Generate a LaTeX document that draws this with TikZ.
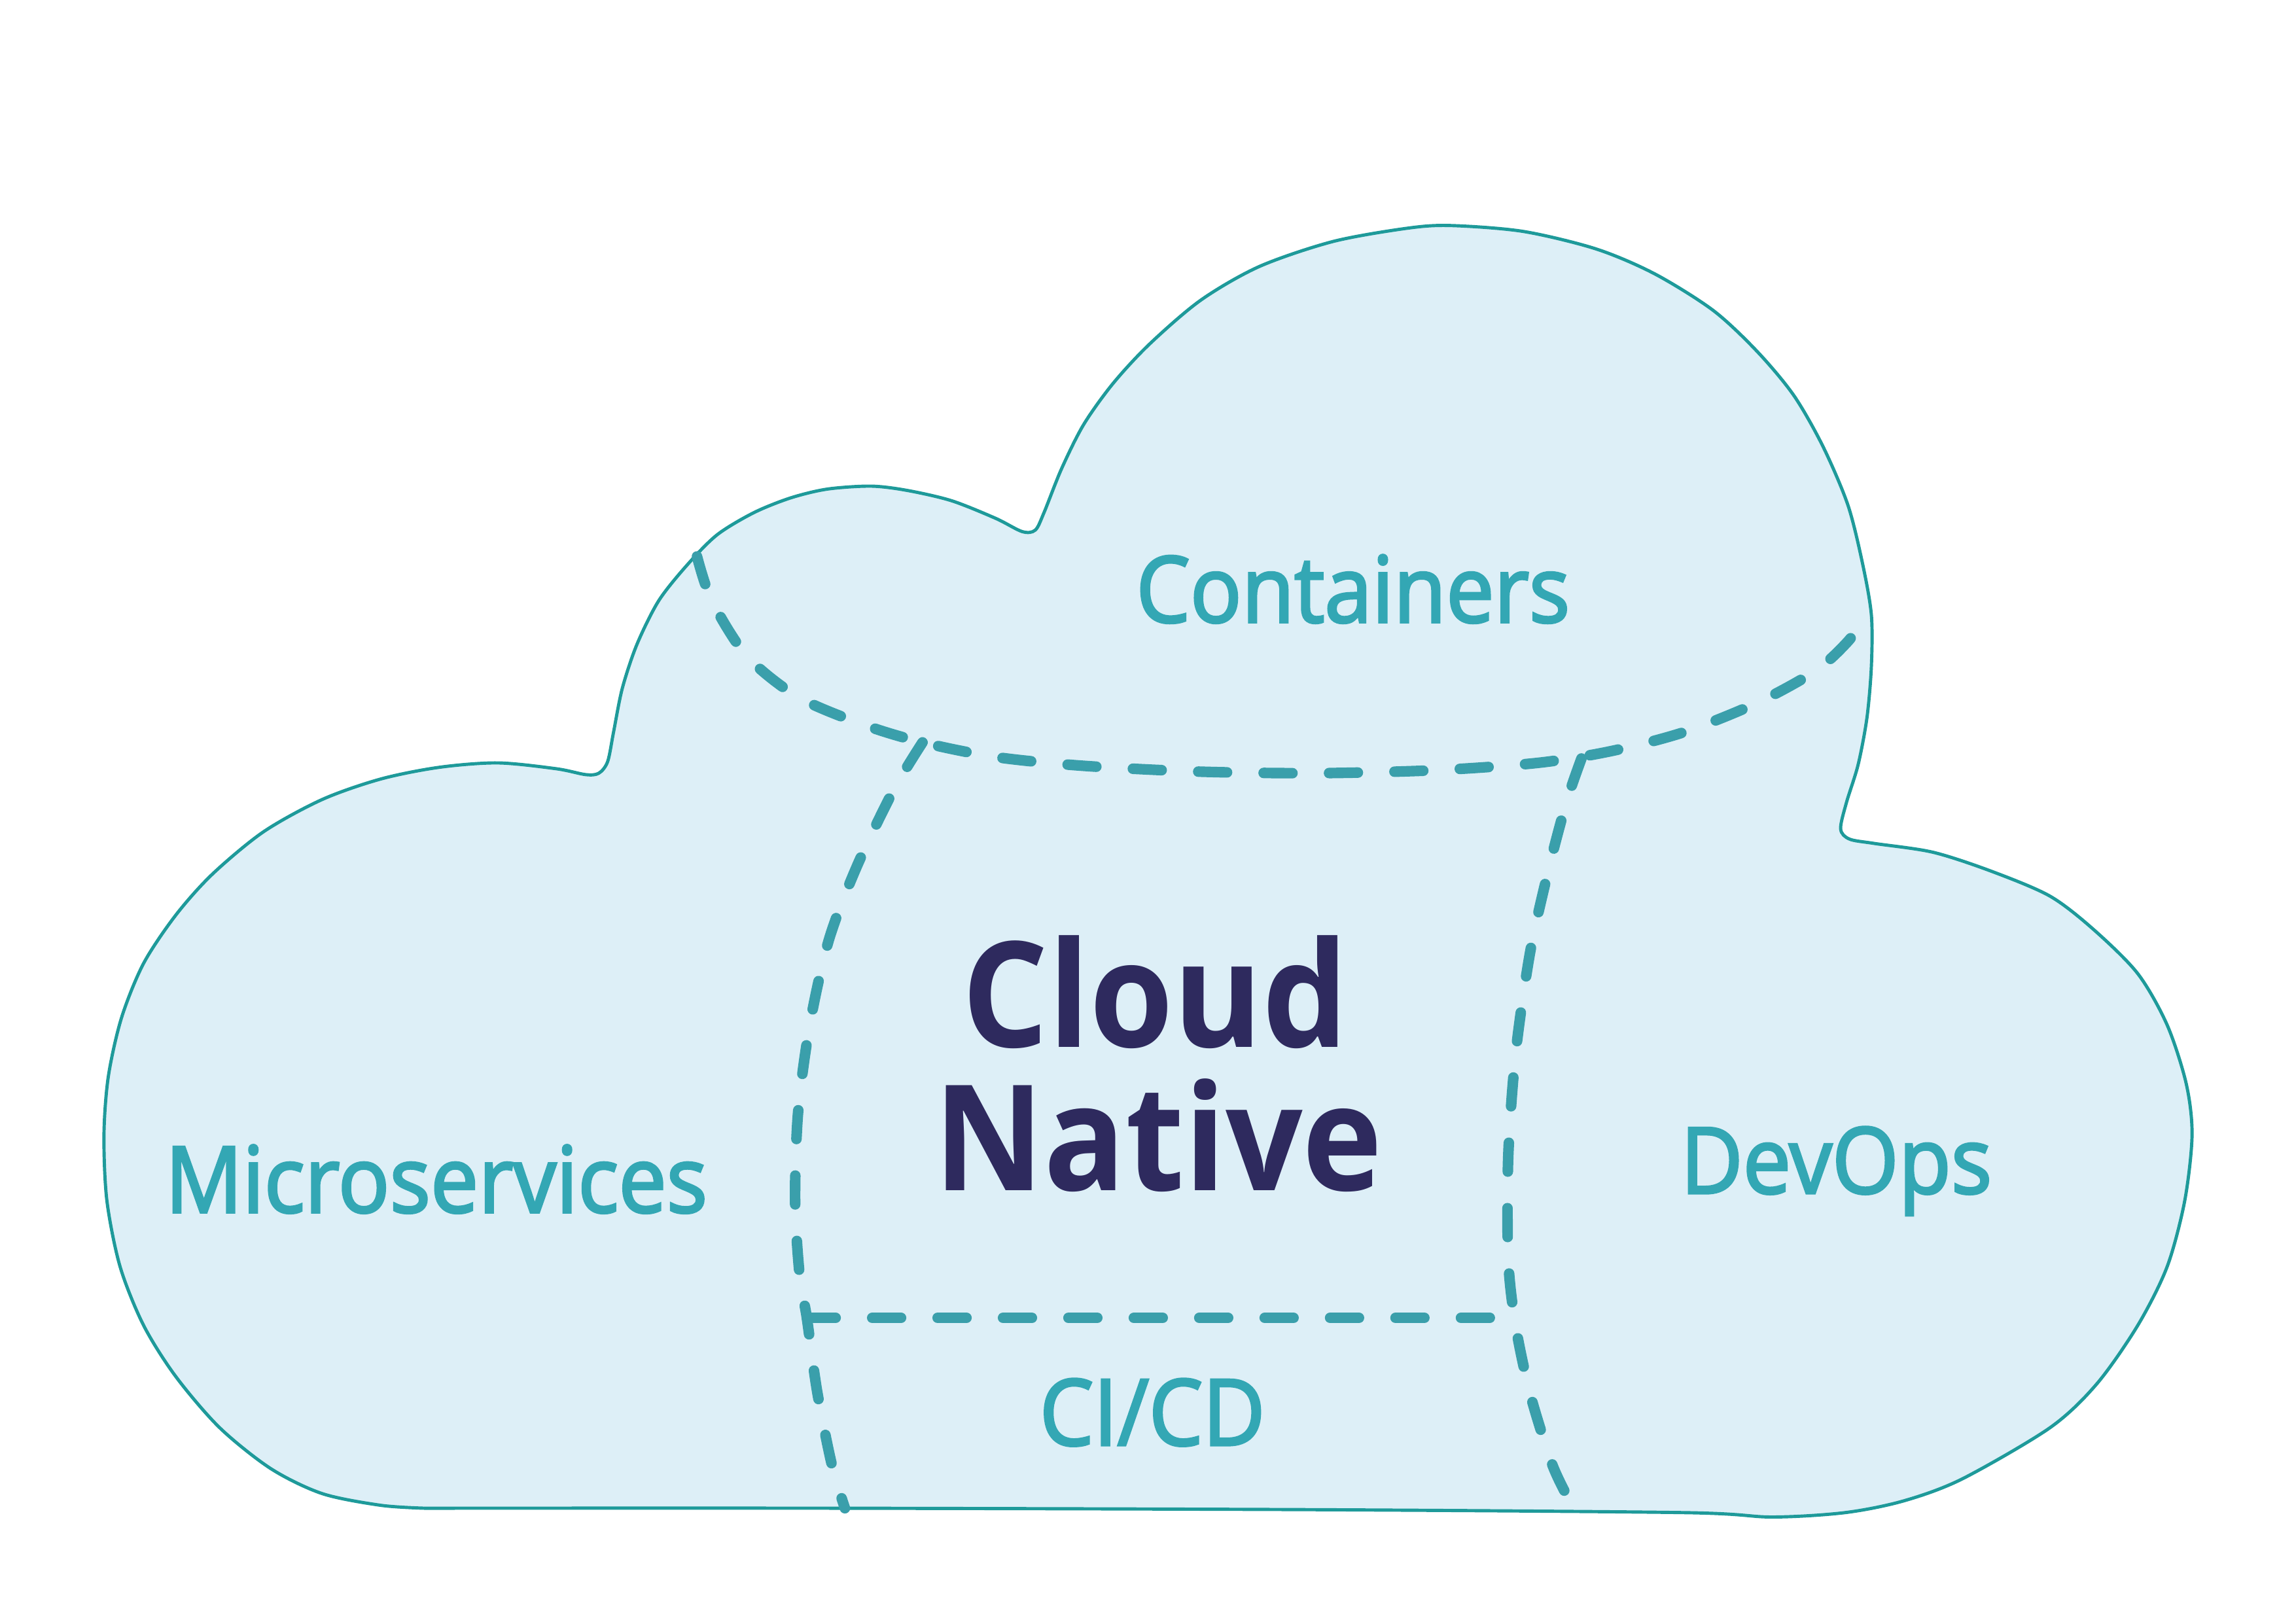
\documentclass[tikz,border=0pt]{standalone}
\usepackage{fontspec}
\setmainfont{Open Sans}
\newfontfamily\labelfont[FakeStretch=0.93,FakeBold=2.5]{Open Sans}
\newfontfamily\titlefont[FakeStretch=0.92]{Open Sans}
\definecolor{cloudfill}{HTML}{DDEFF7}
\definecolor{cloudline}{HTML}{1E9A9A}
\definecolor{dashcol}{HTML}{3A9FAB}
\definecolor{labelcol}{HTML}{33A7B4}
\definecolor{titlecol}{HTML}{2E2A5E}
\tikzset{
  layer/.style={draw=dashcol, line width=4.6pt, line cap=round, dash pattern=on 0.44cm off 0.56cm},
  area/.style={text=labelcol, font=\labelfont\fontsize{40}{40}\selectfont, anchor=base}
}
\begin{document}
\begin{tikzpicture}[x=0.022379cm, y=-0.022379cm]
    \useasboundingbox (0,0) rectangle (1568,1109);
    % cloud
    \filldraw[fill=cloudfill, draw=cloudline, line width=1.4pt] plot[smooth, tension=0.5] coordinates {
        (290,1030) (575,1030) (900,1031) (1150,1033) (1210,1036) (1260,1033) (1300,1025) (1340,1010)
        (1400,975) (1432,945) (1460,905) (1480,865) (1492,820) (1497,775) (1493,740) (1480,700)
        (1460,665) (1430,635) (1400,612) (1360,595) (1320,582) (1280,576) (1263,573) (1257,566)
        (1261,548) (1269,522) (1275,490) (1278,455) (1278,420) (1272,385) (1262,345) (1245,305)
        (1225,270) (1200,240) (1170,212) (1130,187) (1090,170) (1040,158) (990,154) (960,156)
        (910,165) (860,182) (820,205) (785,235) (760,262) (740,290) (725,320) (713,350) (707,362)
        (698,363) (680,354) (650,342) (620,335) (595,332) (565,334) (540,340) (515,350) (490,365)
        (470,385) (450,410) (435,440) (425,470) (419,500) (415,520) (409,528) (400,529) (380,525)
        (340,521) (300,524) (260,532) (220,546) (180,568) (145,597) (120,625) (98,658) (83,695)
        (74,735) (71,775) (73,820) (82,865) (98,905) (120,940) (150,975) (185,1003) (220,1020)
        (260,1028) (290,1030)
    };
    \coordinate (topleft) at (630,507);
    \coordinate (topright) at (1080,518);
    \coordinate (botleft) at (551,900);
    \coordinate (botright) at (1020,900);
    % layers
    \draw[layer] plot[smooth] coordinates {
        (476,380) (486,410) (510,448) (545,476) (590,495) (630,507) (680,517) (740,523) (820,527)
        (900,528) (980,526) (1050,521) (1100,513) (1150,500) (1200,480) (1240,458) (1262,438) (1275,420)
    };
    \draw[layer] plot[smooth] coordinates {
        (topleft) (610,540) (585,592) (566,642) (553,700) (545,760) (543,820) (546,870) (botleft)
        (558,950) (568,1000) (577,1030)
    };
    \draw[layer] plot[smooth] coordinates {
        (topright) (1070,547) (1058,592) (1045,650) (1035,720) (1030,790) (1030,860) (1035,905)
        (1045,952) (1060,1000) (1072,1025)
    };
    \draw[layer] (botleft) -- (botright);
    % labels
    \node[area] (containers) at (924,425) {Containers};
    \node[area] (micro) at (298,828) {Microservices};
    \node[area] (devops) at (1254,815) {DevOps};
    \node[area] (cicd) at (787,987) {CI/CD};
    \node[text=titlecol, font=\titlefont\bfseries\fontsize{64}{62}\selectfont, anchor=base] (cloud) at (789,715) {Cloud};
    \node[text=titlecol, font=\titlefont\bfseries\fontsize{64}{62}\selectfont, anchor=base] (native) at (791,813) {Native};
\end{tikzpicture}
\end{document}
